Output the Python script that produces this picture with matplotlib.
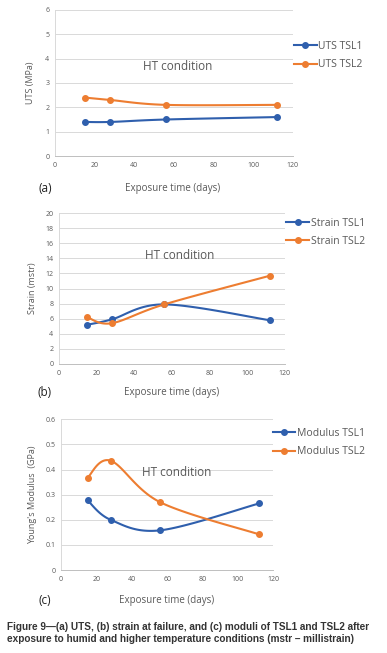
import numpy as np
from matplotlib import pyplot as plt
from matplotlib.lines import Line2D

days = [15, 28, 56, 112]

uts_tsl1 = [1.4, 1.4, 1.5, 1.6]
uts_tsl2 = [2.4, 2.3, 2.1, 2.1]

strain_tsl1 = [5.2, 5.9, 7.9, 5.8]
strain_tsl2 = [6.2, 5.4, 7.9, 11.7]

mod_tsl1 = [0.277, 0.200, 0.158, 0.265]
mod_tsl2 = [0.368, 0.435, 0.270, 0.142]

BLUE = '#2f5fad'
ORANGE = '#ed7d31'
GRAY = '#595959'
GRID = '#d9d9d9'
FONT = ['Open Sans', 'DejaVu Sans']


def smooth(x, y, n=40):
    # Excel-like smoothed line: Catmull-Rom segments drawn as cubic Bezier
    x = np.asarray(x, float)
    y = np.asarray(y, float)
    px = np.concatenate([[x[0]], x, [x[-1]]])
    py = np.concatenate([[y[0]], y, [y[-1]]])
    xs, ys = [], []
    t = np.linspace(0, 1, n)
    for i in range(1, len(px) - 2):
        p0 = np.array([px[i], py[i]])
        p3 = np.array([px[i + 1], py[i + 1]])
        c1 = p0 + (np.array([px[i + 1], py[i + 1]]) - np.array([px[i - 1], py[i - 1]])) / 6
        c2 = p3 - (np.array([px[i + 2], py[i + 2]]) - np.array([px[i], py[i]])) / 6
        b = ((1 - t) ** 3)[:, None] * p0 + (3 * (1 - t) ** 2 * t)[:, None] * c1 \
            + (3 * (1 - t) * t ** 2)[:, None] * c2 + (t ** 3)[:, None] * p3
        xs.extend(b[:, 0])
        ys.extend(b[:, 1])
    return xs, ys


fig = plt.figure(figsize=(3.87, 6.53), dpi=100)

panels = [
    dict(rect=[0.142, 0.761, 0.615, 0.224], s1=uts_tsl1, s2=uts_tsl2, ymax=6, ystep=1,
         ylabel='UTS (MPa)', names=['UTS TSL1', 'UTS TSL2'], leg=(0.735, 0.915),
         ht=(178, 66), tag='(a)', tag_y=188, xl=(173, 188), yl=(31, 83)),
    dict(rect=[0.152, 0.4426, 0.584, 0.231], s1=strain_tsl1, s2=strain_tsl2, ymax=20, ystep=2,
         ylabel='Strain (mstr)', names=['Strain TSL1', 'Strain TSL2'], leg=(0.715, 0.644),
         ht=(180, 255), tag='(b)', tag_y=392, xl=(172, 392), yl=(33, 288)),
    dict(rect=[0.158, 0.127, 0.548, 0.231], s1=mod_tsl1, s2=mod_tsl2, ymax=0.6, ystep=0.1,
         ylabel="Young's Modulus  (GPa)", names=['Modulus TSL1', 'Modulus TSL2'], leg=(0.68, 0.322),
         ht=(177, 473), tag='(c)', tag_y=600, xl=(167, 600), yl=(33, 495)),
]

for p in panels:
    ax = fig.add_axes(p['rect'])
    for s, c in [(p['s1'], BLUE), (p['s2'], ORANGE)]:
        xs, ys = smooth(days, s)
        ax.plot(xs, ys, color=c, lw=1.5, zorder=3)
        ax.plot(days, s, 'o', color=c, ms=4, zorder=4)
    ax.set_xlim(0, 120)
    ax.set_ylim(0, p['ymax'])
    ax.set_xticks(range(0, 121, 20))
    yt = np.arange(0, p['ymax'] + p['ystep'] / 2, p['ystep'])
    ax.set_yticks(yt)
    if p['ystep'] < 1:
        ax.set_yticklabels(['0'] + ['%.1f' % v for v in yt[1:]])
    ax.grid(axis='y', color=GRID, lw=0.7)
    ax.set_axisbelow(True)
    for side in ['top', 'right']:
        ax.spines[side].set_visible(False)
    ax.spines['left'].set_color(GRID)
    ax.spines['bottom'].set_color('#bfbfbf')
    ax.spines['left'].set_linewidth(0.7)
    ax.spines['bottom'].set_linewidth(0.7)
    ax.tick_params(length=0, labelsize=5, labelcolor=GRAY, pad=4)
    for lab in ax.get_xticklabels() + ax.get_yticklabels():
        lab.set_family(FONT)

    handles = [Line2D([], [], color=BLUE, lw=1.5, marker='o', ms=4),
               Line2D([], [], color=ORANGE, lw=1.5, marker='o', ms=4)]
    fig.legend(handles, p['names'], loc='center left', bbox_to_anchor=p['leg'],
               frameon=False, handlelength=2.2, handletextpad=0.15,
               labelspacing=0.7, labelcolor=GRAY, prop={'family': FONT, 'size': 7.5})

    W, H = 387, 653
    fig.text(p['ht'][0] / W, 1 - p['ht'][1] / H, 'HT condition', ha='center', va='center',
             fontsize=8.5, color=GRAY, family=FONT)
    fig.text(45 / W, 1 - p['tag_y'] / H, p['tag'], ha='center', va='center',
             fontsize=8.5, color='#222222', family=FONT)
    fig.text(p['xl'][0] / W, 1 - p['xl'][1] / H, 'Exposure time (days)', ha='center',
             va='center', fontsize=7, color=GRAY, family=FONT)
    fig.text(p['yl'][0] / W, 1 - p['yl'][1] / H, p['ylabel'], ha='center', va='center',
             rotation=90, fontsize=6.5, color=GRAY, family=FONT)

cap = ('Figure 9\u2014(a) UTS, (b) strain at failure, and (c) moduli of TSL1 and TSL2 after\n'
       'exposure to humid and higher temperature conditions (mstr \u2013 millistrain)')
fig.text(7 / 387, 1 - 633 / 653, cap, ha='left', va='center', fontsize=7.2,
         fontweight='bold', color='#333333', linespacing=1.25,
         family=['Liberation Sans Narrow', 'Liberation Sans', 'DejaVu Sans'])

fig.savefig('out.png', dpi=100)
